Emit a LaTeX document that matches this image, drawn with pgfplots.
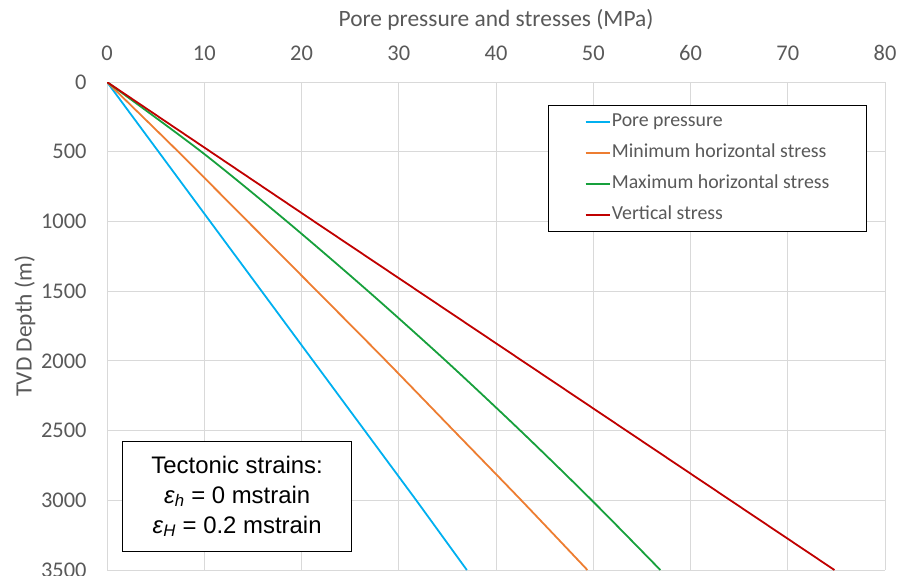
\documentclass[border=0pt]{standalone}
\usepackage{fontspec}
\setmainfont{Carlito}
\newfontfamily\arialf{Liberation Sans}
\usepackage{pgfplots}
\pgfplotsset{compat=1.18}
\definecolor{ppc}{HTML}{00B0F0}
\definecolor{shc}{HTML}{ED7D31}
\definecolor{sHc}{HTML}{17A03C}
\definecolor{svc}{HTML}{C00000}
\definecolor{gridc}{HTML}{D9D9D9}
\definecolor{tickc}{HTML}{595959}
\begin{document}
\begin{tikzpicture}
\begin{axis}[name=ax,
  width=778bp, height=488bp, scale only axis,
  xmin=0, xmax=80, ymin=0, ymax=3500, y dir=reverse,
  xtick={0,10,...,80}, ytick={0,500,...,3500},
  xticklabel pos=right,
  grid=major, major grid style={draw=gridc, line width=1bp},
  axis line style={draw=none}, major tick length=0pt,
  tick label style={font=\fontsize{22.5}{26}\selectfont, text=tickc},
  xticklabel style={yshift=18bp},
  yticklabel style={xshift=-17bp},
  /pgf/number format/assume math mode=true,
  /pgf/number format/set thousands separator={},
  xlabel={Pore pressure and stresses (MPa)},
  ylabel={TVD Depth (m)},
  label style={font=\fontsize{23.5}{28}\selectfont, text=tickc},
  xlabel style={at={(axis description cs:0.5,1)}, anchor=center, yshift=62bp},
  ylabel style={at={(axis description cs:0,0.5)}, anchor=center, rotate=0, yshift=82bp},
  legend cell align=left,
  legend image code/.code={\draw[#1, line width=1.8bp] (0bp,0bp) -- (24bp,0bp);},
  legend style={at={(0.567,0.953)}, anchor=north west, draw=black, line width=1bp,
    font=\fontsize{19.9}{23}\selectfont, text=tickc,
    inner xsep=36bp, inner ysep=1bp, row sep=0pt,
    nodes={inner xsep=1.5bp, inner ysep=6bp, text height=14bp, text depth=5bp}},
]
\addplot[ppc, line width=1.8bp] coordinates {(0,0) (5.3,500) (10.6,1000) (15.9,1500) (21.2,2000) (26.5,2500) (31.8,3000) (37.0,3500)};
\addlegendentry{Pore pressure}
\addplot[shc, line width=1.8bp, smooth] coordinates {(0,0) (7.33,500) (14.47,1000) (21.6,1500) (28.7,2000) (35.65,2500) (42.6,3000) (49.4,3500)};
\addlegendentry{Minimum horizontal stress}
\addplot[sHc, line width=1.8bp, smooth] coordinates {(0,0) (9.7,500) (18.5,1000) (26.85,1500) (34.85,2000) (42.5,2500) (49.85,3000) (56.9,3500)};
\addlegendentry{Maximum horizontal stress}
\addplot[svc, line width=1.8bp] coordinates {(0,0) (10.65,500) (21.3,1000) (32.0,1500) (42.7,2000) (53.4,2500) (64.1,3000) (74.8,3500)};
\addlegendentry{Vertical stress}
\node[draw=black, line width=1.3bp, fill=white, anchor=south west, minimum width=229bp, minimum height=110bp,
  align=center, font=\arialf\fontsize{24}{30}\selectfont, inner sep=0pt]
  at (axis cs:1.54,3371) {Tectonic strains:\\ \textit{ε}\textsubscript{\textit{h}} = 0 mstrain\\ \textit{ε}\textsubscript{\textit{H}} = 0.2 mstrain};
\end{axis}
\pgfresetboundingbox
\path ([shift={(-107bp,-5bp)}]ax.south west) rectangle ([shift={(23bp,82bp)}]ax.north east);
\end{tikzpicture}
\end{document}
